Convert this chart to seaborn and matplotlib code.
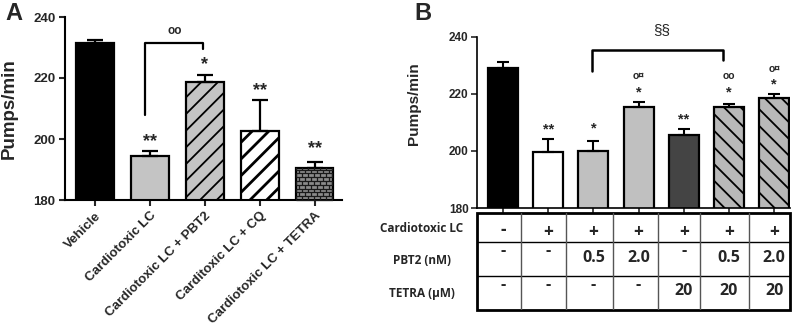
import numpy as np
import pandas as pd
import matplotlib
matplotlib.use('Agg')
import matplotlib.pyplot as plt
import seaborn as sns
from matplotlib.collections import LineCollection

sns.set_style('white')
plt.rcParams['font.family'] = ['Liberation Sans', 'DejaVu Sans']
plt.rcParams['hatch.linewidth'] = 1.3

# panel A data
a_groups = ['Vehicle', 'Cardiotoxic LC', 'Cardiotoxic LC + PBT2',
            'Carditoxic LC + CQ', 'Cardiotoxic LC + TETRA']
a_means = [231.5, 194.4, 218.8, 202.6, 190.5]
a_sem = [1.0, 1.6, 2.1, 10.2, 1.9]
a_stars = ['', '**', '*', '**', '**']
a_star_y = [0, 199.0, 224.5, 216.0, 197.0]

# panel B data
b_groups = ['V', 'LC', 'LC+P0.5', 'LC+P2', 'LC+T', 'LC+T+P0.5', 'LC+T+P2']
b_means = [229.0, 199.5, 200.0, 215.5, 205.7, 215.5, 218.5]
b_sem = [2.0, 4.5, 3.3, 1.6, 2.0, 0.9, 1.3]
b_stars = ['', '**', '*', '*', '**', '*', '*']
b_star_y = [0, 207.5, 208.0, 220.5, 211.0, 220.5, 223.3]
b_circ = ['', '', '', 'o¤', '', 'oo', 'o¤']
b_circ_y = [0, 0, 0, 226.3, 0, 226.3, 228.7]

row_labels = ['Cardiotoxic LC', 'PBT2 (nM)', 'TETRA (µM)']
row_lc = ['-', '+', '+', '+', '+', '+', '+']
row_pbt2 = ['-', '-', '0.5', '2.0', '-', '0.5', '2.0']
row_tetra = ['-', '-', '-', '-', '20', '20', '20']

fig = plt.figure(figsize=(8, 3.34), dpi=100)

# ---------------- panel A ----------------
axA = fig.add_axes([65/800, 1-200/334, 277/800, 183/334])
dfA = pd.DataFrame({'group': a_groups, 'pumps': a_means})
sns.barplot(data=dfA, x='group', y='pumps', hue='group', legend=False,
            palette=['black', '#c4c4c4', '#c4c4c4', 'white', '#8a8a8a'],
            edgecolor='black', linewidth=1.6, width=0.69, errorbar=None, ax=axA)
axA.errorbar(range(len(a_means)), a_means, yerr=[np.zeros(len(a_sem)), a_sem],
             fmt='none', ecolor='black', elinewidth=1.6, capsize=6, capthick=1.6)
bars = axA.patches
bars[2].set_hatch('//')
bars[3].set_hatch('//')
if hasattr(bars[3], 'set_hatch_linewidth'):
    bars[3].set_hatch_linewidth(2.0)

# brick pattern on TETRA bar
p = bars[4]
x0, w = p.get_x(), p.get_width()
segs = []
yy = 180.0
row = 0
while yy < a_means[4]:
    segs.append([(x0, yy), (x0 + w, yy)])
    off = 0.0 if row % 2 == 0 else 0.055
    xx = x0 + off
    while xx < x0 + w:
        segs.append([(xx, yy), (xx, yy + 1.25)])
        xx += 0.11
    yy += 1.25
    row += 1
lc = LineCollection(segs, colors='#1a1a1a', linewidths=0.9, zorder=3)
axA.add_collection(lc)
lc.set_clip_path(p)

axA.set_ylim(180, 240)
axA.set_xlim(-0.55, 4.5)
axA.set_yticks([180, 200, 220, 240])
axA.set_xlabel('')
axA.set_ylabel('Pumps/min', fontsize=13.5, fontweight='bold')
axA.yaxis.set_label_coords(-0.17, 0.5)
axA.set_xticks(range(len(a_groups)))
axA.set_xticklabels(a_groups, rotation=45, ha='right', rotation_mode='anchor',
                    fontsize=9.5, fontweight='bold')
for lab in axA.get_yticklabels():
    lab.set_fontweight('bold')
    lab.set_fontsize(9.5)
axA.tick_params(axis='both', direction='out', length=4, width=1.5, pad=3,
                bottom=True, left=True)
for s in ['top', 'right']:
    axA.spines[s].set_visible(False)
for s in ['left', 'bottom']:
    axA.spines[s].set_linewidth(1.5)
    axA.spines[s].set_color('black')

for i, s in enumerate(a_stars):
    if s:
        axA.text(i, a_star_y[i], s, ha='center', va='center', fontsize=13,
                 fontweight='bold')
axA.plot([0.91, 0.91, 1.97, 1.97], [207.9, 231.5, 231.5, 229.5], color='black',
         lw=1.6, clip_on=False)
axA.text(1.45, 235.5, 'oo', ha='center', va='center', fontsize=8.5,
         fontweight='bold')
fig.text(14/800, 1-14/334, 'A', ha='center', va='center', fontsize=17,
         fontweight='bold')

# ---------------- panel B ----------------
axB = fig.add_axes([477/800, 1-208/334, 313/800, 171.3/334])
dfB = pd.DataFrame({'group': b_groups, 'pumps': b_means})
sns.barplot(data=dfB, x='group', y='pumps', hue='group', legend=False,
            palette=['black', 'white', '#c0c0c0', '#c0c0c0', '#444444',
                     '#b8b8b8', '#b8b8b8'],
            edgecolor='black', linewidth=1.6, width=0.66, errorbar=None, ax=axB)
axB.errorbar(range(len(b_means)), b_means, yerr=[np.zeros(len(b_sem)), b_sem],
             fmt='none', ecolor='black', elinewidth=1.5, capsize=4.5, capthick=1.5)
for i in (5, 6):
    axB.patches[i].set_hatch('\\\\')

axB.set_ylim(180, 240)
axB.set_xlim(-0.575, 6.35)
axB.set_yticks([180, 200, 220, 240])
axB.set_xlabel('')
axB.set_xticks(range(len(b_groups)))
axB.set_xticklabels([])
axB.set_ylabel('Pumps/min', fontsize=11, fontweight='bold')
axB.yaxis.set_label_coords(-0.18, 0.61)
for lab in axB.get_yticklabels():
    lab.set_fontweight('bold')
    lab.set_fontsize(8.5)
axB.tick_params(axis='both', direction='out', length=4, width=1.2, pad=2,
                bottom=True, left=True)
for s in ['top', 'right']:
    axB.spines[s].set_visible(False)
for s in ['left', 'bottom']:
    axB.spines[s].set_linewidth(1.2)
    axB.spines[s].set_color('black')

for i in range(len(b_groups)):
    if b_stars[i]:
        axB.text(i, b_star_y[i], b_stars[i], ha='center', va='center',
                 fontsize=10.5, fontweight='bold')
    if b_circ[i]:
        axB.text(i, b_circ_y[i], b_circ[i], ha='center', va='center',
                 fontsize=7.5, fontweight='bold')
axB.plot([1.97, 1.97, 4.87, 4.87], [228.0, 235.4, 235.4, 231.9], color='black',
         lw=1.8, clip_on=False)
axB.text(3.52, 242.3, '§§', ha='center', va='center', fontsize=11,
         clip_on=False)
fig.text(423/800, 1-14/334, 'B', ha='center', va='center', fontsize=17,
         fontweight='bold')

# ---------------- table under panel B ----------------
axT = fig.add_axes([477/800, 1-310/334, 313/800, 97/334])
axT.set_xlim(-0.575, 6.35)
axT.set_ylim(310, 213)
axT.axis('off')
tf = ['Open Sans', 'DejaVu Sans']
axT.add_patch(plt.Rectangle((-0.575, 213), 6.925, 97, fill=False, lw=2.0,
                            edgecolor='black', clip_on=False))
for yl in (242, 276):
    axT.plot([-0.575, 6.35], [yl, yl], color='black', lw=1.0)
for xl in [0.4, 1.39, 2.43, 3.43, 4.36, 5.44]:
    axT.plot([xl, xl], [213, 310], color='#555555', lw=1.0)
for i in range(len(b_groups)):
    axT.text(i, 232 if row_lc[i] == '+' else 230, row_lc[i], ha='center',
             va='center', fontsize=12.5, fontweight='bold', family=tf)
    axT.text(i, 258 if row_pbt2[i] != '-' else 251, row_pbt2[i], ha='center',
             va='center', fontsize=11.5, fontweight='bold', family=tf)
    axT.text(i, 291 if row_tetra[i] != '-' else 285, row_tetra[i], ha='center',
             va='center', fontsize=11.5, fontweight='bold', family=tf)
for lab, yl in zip(row_labels, [229, 261, 293]):
    fig.text(422/800, 1-yl/334, lab, ha='center', va='center', fontsize=8.5,
             fontweight='bold', family=tf)

fig.savefig('out.png', dpi=100)
